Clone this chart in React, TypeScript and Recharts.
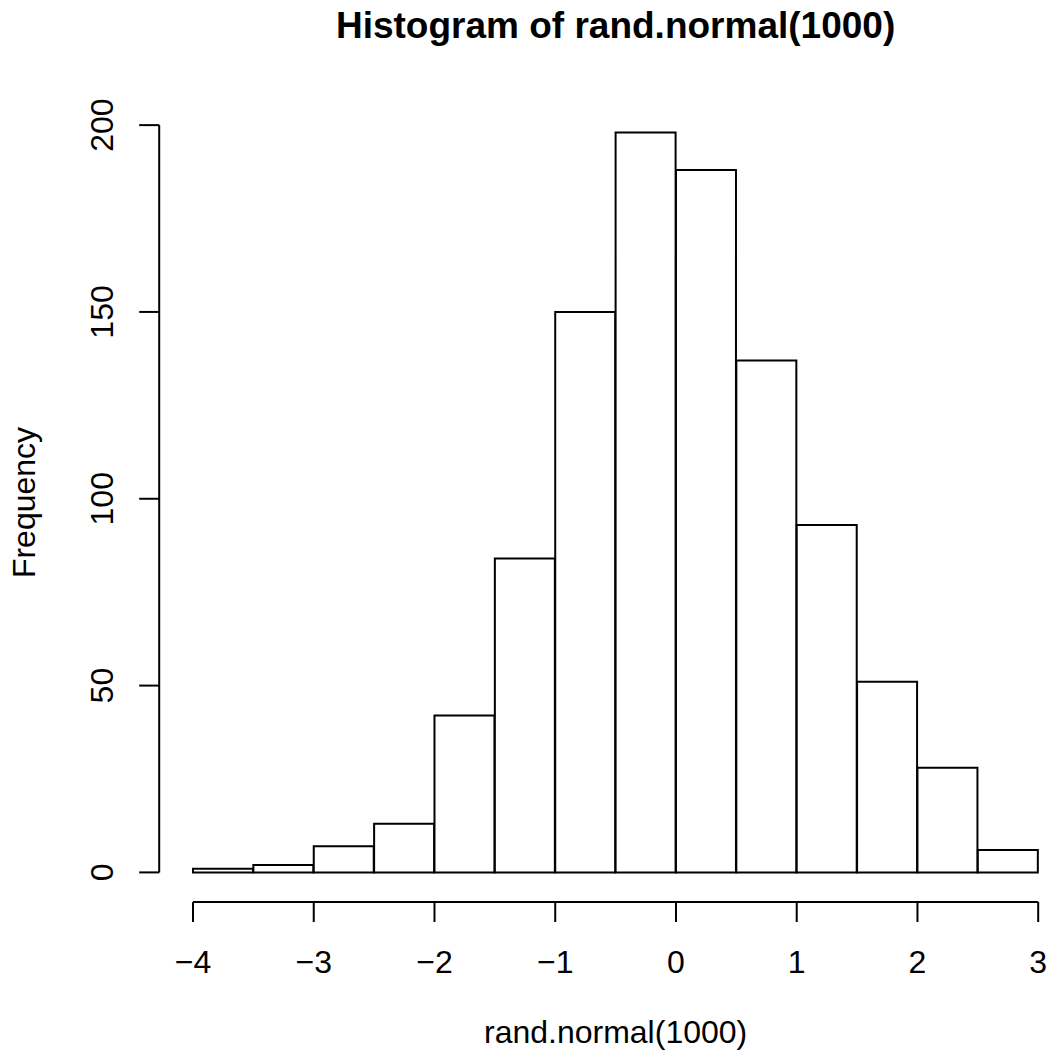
import React from 'react';
import { ComposedChart, Bar, XAxis, YAxis, ReferenceLine } from 'recharts';

// histogram bins: edges and counts per bin
const binEdges = [-4, -3.5, -3, -2.5, -2, -1.5, -1, -0.5, 0, 0.5, 1, 1.5, 2, 2.5, 3];
const binCounts = [1, 2, 7, 13, 42, 84, 150, 198, 188, 137, 93, 51, 28, 6];

const xTicks = [-4, -3, -2, -1, 0, 1, 2, 3];
const yTicks = [0, 50, 100, 150, 200];

const histData = binCounts.map((count, i) => ({
  mid: (binEdges[i] + binEdges[i + 1]) / 2,
  count,
}));

// base-graphics style 4% padding around the data range
const xLo = binEdges[0];
const xHi = binEdges[binEdges.length - 1];
const xPad = (xHi - xLo) * 0.04;
const yMax = Math.max(...binCounts);
const yPad = yMax * 0.04;
const xDomain = [xLo - xPad, xHi + xPad];
const yDomain = [-yPad, yMax + yPad];

const FONT = '"Liberation Sans", Arial, Helvetica, sans-serif';
const W = 1100;
const H = 1057;
const plot = { left: 159.2, right: 1072, top: 103, bottom: 902 };

const fmt = (v: number) => (v < 0 ? `\u2212${Math.abs(v)}` : String(v));

const XTick = (props: any) => {
  const { x, y, payload } = props;
  return (
    <text x={x} y={y + 49} textAnchor="middle" fontFamily={FONT} fontSize={32} fill="#000">
      {fmt(payload.value)}
    </text>
  );
};

const YTick = (props: any) => {
  const { x, y, payload } = props;
  const bx = x - 24;
  return (
    <text
      x={bx}
      y={y}
      transform={`rotate(-90 ${bx} ${y})`}
      textAnchor="middle"
      fontFamily={FONT}
      fontSize={32}
      fill="#000"
    >
      {fmt(payload.value)}
    </text>
  );
};

export default function App() {
  const cx = (plot.left + plot.right) / 2;
  const cy = (plot.top + plot.bottom) / 2;
  return (
    <div
      style={{
        position: 'absolute',
        left: 0,
        top: 0,
        width: 1050,
        height: 1057,
        overflow: 'hidden',
        background: '#fff',
      }}
    >
      <ComposedChart
        width={W}
        height={H}
        data={histData}
        margin={{ top: plot.top, bottom: H - plot.bottom - 30, left: plot.left - 60, right: W - plot.right }}
        barCategoryGap={0}
        barGap={0}
      >
        <XAxis
          dataKey="mid"
          type="number"
          domain={xDomain}
          allowDataOverflow
          ticks={xTicks}
          interval={0}
          height={30}
          axisLine={false}
          tickLine={{ stroke: '#000', strokeWidth: 2 }}
          tickSize={20}
          tick={<XTick />}
        />
        <YAxis
          type="number"
          domain={yDomain}
          allowDataOverflow
          ticks={yTicks}
          interval={0}
          width={60}
          axisLine={false}
          tickLine={{ stroke: '#000', strokeWidth: 2 }}
          tickSize={20}
          tick={<YTick />}
        />
        <Bar
          dataKey="count"
          fill="#fff"
          stroke="#000"
          strokeWidth={2}
          isAnimationActive={false}
        />
        {/* axis lines only span the tick range */}
        <ReferenceLine
          segment={[{ x: xTicks[0], y: yDomain[0] }, { x: xTicks[xTicks.length - 1], y: yDomain[0] }]}
          stroke="#000"
          strokeWidth={2}
          ifOverflow="visible"
        />
        <ReferenceLine
          segment={[{ x: xDomain[0], y: yTicks[0] }, { x: xDomain[0], y: yTicks[yTicks.length - 1] }]}
          stroke="#000"
          strokeWidth={2}
          ifOverflow="visible"
        />
        <text x={cx} y={38} textAnchor="middle" fontFamily={FONT} fontSize={37} fontWeight="bold" fill="#000">
          Histogram of rand.normal(1000)
        </text>
        <text x={cx} y={1043} textAnchor="middle" fontFamily={FONT} fontSize={32} fill="#000">
          rand.normal(1000)
        </text>
        <text
          x={35}
          y={cy}
          transform={`rotate(-90 35 ${cy})`}
          textAnchor="middle"
          fontFamily={FONT}
          fontSize={32}
          fill="#000"
        >
          Frequency
        </text>
      </ComposedChart>
    </div>
  );
}
